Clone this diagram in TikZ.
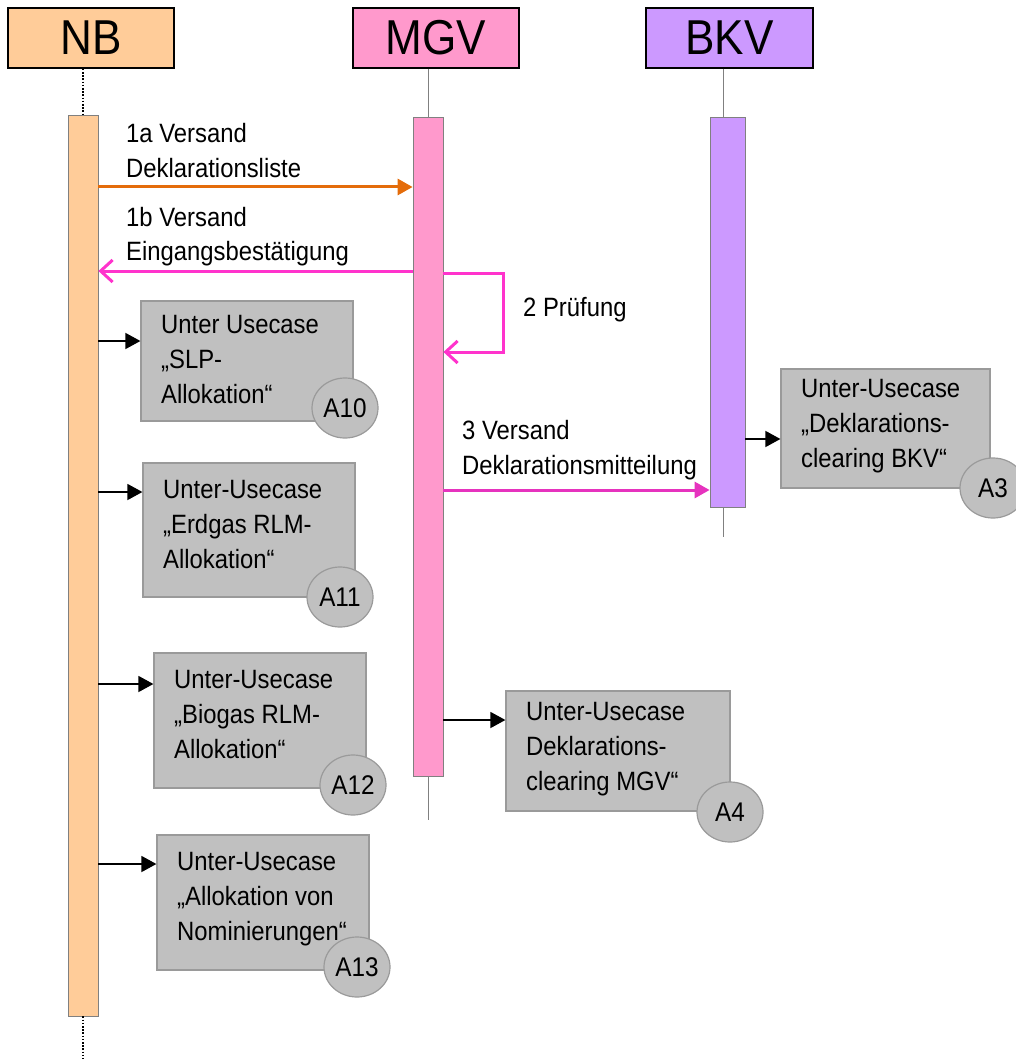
\documentclass[tikz,border=0pt]{standalone}
\usepackage{fontspec}
\setmainfont{Liberation Sans}[FakeStretch=0.9]
\usetikzlibrary{arrows.meta,shapes.geometric}

\definecolor{nbfill}{HTML}{FFCC99}
\definecolor{mgvfill}{HTML}{FF99CC}
\definecolor{bkvfill}{HTML}{CC99FF}
\definecolor{boxfill}{HTML}{C0C0C0}
\definecolor{boxline}{HTML}{9A9A9A}
\definecolor{msgorange}{HTML}{E46C0A}
\definecolor{msgpink}{HTML}{FF33CC}
\definecolor{msgmagenta}{HTML}{E633BE}
\definecolor{barline}{HTML}{808080}

% multi-line text whose baseline is the first line
\newcommand{\mltext}[1]{\begin{tabular}[t]{@{}l@{}}#1\end{tabular}}

\tikzset{
  lbl/.style={anchor=base west, inner sep=0pt, font=\fontsize{26.5}{35}\selectfont},
  header/.style={draw=black, line width=1.5pt, minimum width=166pt, minimum height=60pt,
    inner sep=0pt, font=\fontsize{49}{49}\selectfont},
  actbar/.style={draw=barline, line width=0.8pt, minimum width=30pt, inner sep=0pt},
  ucbox/.style={draw=boxline, fill=boxfill, line width=1.2pt, inner sep=0pt},
  badge/.style={ellipse, draw=boxline, fill=boxfill, line width=1.2pt, minimum width=66pt,
    minimum height=60pt, inner sep=0pt, font=\fontsize{27}{30}\selectfont},
  lifedot/.style={line width=2.4pt, dash pattern=on 1.6pt off 1.6pt},
  lifethin/.style={draw=gray, line width=0.8pt},
  call/.style={-{Triangle[length=15pt,width=16pt]}, line width=1.5pt, black},
  msgfilled/.style={-{Triangle[length=15pt,width=16pt]}, line width=3pt},
  msgopen/.style={-{Straight Barb[length=12pt,width=22pt,line width=3pt]}, line width=3pt, msgpink},
}

\begin{document}
\begin{tikzpicture}[x=1pt,y=-1pt]
\useasboundingbox (0,0) rectangle (1015,1059);

% lifeline heads
\node[header, fill=nbfill]  (nb)  at (91,38)    {NB};
\node[header, fill=mgvfill] (mgv) at (436,38)   {MGV};
\node[header, fill=bkvfill, minimum width=167pt] (bkv) at (729.5,38) {BKV};

% activation bars
\node[actbar, fill=nbfill,  minimum height=901pt] (nbbar)  at (83,565.5)  {};
\node[actbar, fill=mgvfill, minimum height=659pt] (mgvbar) at (428,446.5) {};
\node[actbar, fill=bkvfill, minimum width=35pt, minimum height=390pt] (bkvbar) at (727.5,312) {};

% lifelines
\coordinate (nbend)  at (83,1059);
\coordinate (mgvend) at (428,820);
\coordinate (bkvend) at (723,537);
\draw[lifedot] (nb.south -| nbbar) -- (nbbar.north);
\draw[lifedot] (nbbar.south) -- (nbend);
\draw[lifethin] (nb.south -| mgvbar) -- (mgvbar.north);
\draw[lifethin] (mgvbar.south) -- (mgvend);
\draw[lifethin] (bkv.south -| bkvend) -- (bkvbar.north -| bkvend);
\draw[lifethin] (bkvbar.south -| bkvend) -- (bkvend);

% messages
\draw[msgfilled, msgorange] (nbbar.east |- 0,187) -- (mgvbar.west |- 0,187);
\node[lbl] (m1a) at (126,143) {\mltext{1a Versand\\Deklarationsliste}};

\draw[msgopen] (mgvbar.west |- 0,271) -- (nbbar.east |- 0,271);
\node[lbl] (m1b) at (126,226) {\mltext{1b Versand\\Eingangsbestätigung}};

\coordinate (loopa) at (503,273);
\coordinate (loopb) at (503,352);
\draw[msgopen] (mgvbar.east |- loopa) -- (loopa) -- (loopb) -- (mgvbar.east |- loopb);
\node[lbl] (m2) at (523,316) {2 Prüfung};

\draw[msgfilled, msgmagenta] (mgvbar.east |- 0,490) -- (bkvbar.west |- 0,490);
\node[lbl] (m3) at (462,439) {\mltext{3 Versand\\Deklarationsmitteilung}};

% sub use cases
\node[ucbox, minimum width=212pt, minimum height=120pt] (uc10) at (247,361) {};
\node[lbl] (t10) at (161,333) {\mltext{Unter Usecase\\„SLP-\\Allokation“}};
\node[badge] (b10) at (345,408) {A10};

\node[ucbox, minimum width=212pt, minimum height=134pt] (uc11) at (249,530) {};
\node[lbl] (t11) at (163,498) {\mltext{Unter-Usecase\\„Erdgas RLM-\\Allokation“}};
\node[badge] (b11) at (340,597) {A11};

\node[ucbox, minimum width=212pt, minimum height=135pt] (uc12) at (260,720.5) {};
\node[lbl] (t12) at (174,688) {\mltext{Unter-Usecase\\„Biogas RLM-\\Allokation“}};
\node[badge] (b12) at (353,785) {A12};

\node[ucbox, minimum width=212pt, minimum height=135pt] (uc13) at (263,902.5) {};
\node[lbl] (t13) at (177,870) {\mltext{Unter-Usecase\\„Allokation von\\Nominierungen“}};
\node[badge] (b13) at (357,967) {A13};

\node[ucbox, minimum width=224pt, minimum height=120pt] (uc4) at (618,751) {};
\node[lbl] (t4) at (526,720) {\mltext{Unter-Usecase\\Deklarations-\\clearing MGV“}};
\node[badge] (b4) at (730,812) {A4};

\node[ucbox, minimum width=209pt, minimum height=119pt] (uc3) at (885.5,428.5) {};
\node[lbl] (t3) at (801,397) {\mltext{Unter-Usecase\\„Deklarations-\\clearing BKV“}};
\node[badge] (b3) at (993,488) {A3};

% calls into the sub use cases
\draw[call] (nbbar.east |- 0,341) -- (uc10.west |- 0,341);
\draw[call] (nbbar.east |- 0,492) -- (uc11.west |- 0,492);
\draw[call] (nbbar.east |- 0,684) -- (uc12.west |- 0,684);
\draw[call] (nbbar.east |- 0,864) -- (uc13.west |- 0,864);
\draw[call] (mgvbar.east |- 0,720) -- (uc4.west |- 0,720);
\draw[call] (bkvbar.east |- 0,439) -- (uc3.west |- 0,439);
\end{tikzpicture}
\end{document}
